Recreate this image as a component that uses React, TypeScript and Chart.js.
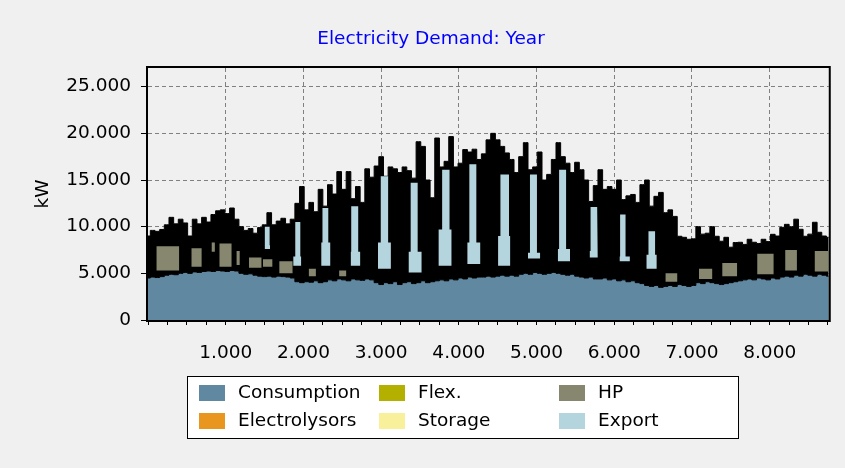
import React, { useEffect, useRef } from 'react';
import { Chart, registerables } from 'chart.js';

Chart.register(...registerables);

// ---------------- data ----------------
// sample hours of the year for the demand envelope and consumption
const hoursH = [
  0, 60, 120, 180, 240, 300, 360, 420, 480, 540,
  600, 660, 720, 780, 840, 900, 960, 1020, 1080, 1140,
  1200, 1260, 1320, 1380, 1440, 1500, 1560, 1620, 1680, 1740,
  1800, 1860, 1920, 1980, 2040, 2100, 2160, 2220, 2280, 2340,
  2400, 2460, 2520, 2580, 2640, 2700, 2760, 2820, 2880, 2940,
  3000, 3060, 3120, 3180, 3240, 3300, 3360, 3420, 3480, 3540,
  3600, 3660, 3720, 3780, 3840, 3900, 3960, 4020, 4080, 4140,
  4200, 4260, 4320, 4380, 4440, 4500, 4560, 4620, 4680, 4740,
  4800, 4860, 4920, 4980, 5040, 5100, 5160, 5220, 5280, 5340,
  5400, 5460, 5520, 5580, 5640, 5700, 5760, 5820, 5880, 5940,
  6000, 6060, 6120, 6180, 6240, 6300, 6360, 6420, 6480, 6540,
  6600, 6660, 6720, 6780, 6840, 6900, 6960, 7020, 7080, 7140,
  7200, 7260, 7320, 7380, 7440, 7500, 7560, 7620, 7680, 7740,
  7800, 7860, 7920, 7980, 8040, 8100, 8160, 8220, 8280, 8340,
  8400, 8460, 8520, 8580, 8640, 8700, 8760,
];

// total stacked demand (top of the black hourly mass), kW
const totalPeakKW = [
  9000, 9600, 9500, 9700, 10200, 11000, 10300, 10800, 10400, 9000,
  10800, 10300, 11000, 10500, 11300, 11700, 11800, 11400, 12000, 10800,
  10000, 9600, 9800, 9300, 9900, 10200, 11500, 10200, 10600, 10900,
  10300, 10800, 12500, 14300, 11800, 12600, 11600, 14000, 12200, 14500,
  13500, 15900, 14000, 15900, 13000, 14300, 12600, 16200, 15300, 16500,
  17500, 15400, 16400, 16200, 15800, 16400, 16000, 15200, 19100, 18600,
  15000, 13100, 19500, 16400, 17000, 19650, 16400, 16800, 18260, 18000,
  18300, 17200, 17800, 19300, 20000, 19300, 18600, 17900, 17200, 15800,
  17500, 19000, 16100, 16400, 18000, 15000, 15600, 17200, 19000, 17500,
  16800, 15800, 16900, 16100, 15000, 12700, 14400, 16100, 14000, 14300,
  14000, 15000, 12900, 13300, 13450, 12600, 14500, 15000, 12200, 13250,
  13670, 11500, 11800, 11100, 8970, 8860, 8650, 8700, 10000, 9200,
  9300, 10000, 8970, 8440, 8860, 7800, 8300, 8330, 8100, 8650,
  8330, 8200, 8650, 8400, 9180, 9000, 9930, 10250, 10000, 10800,
  9720, 8970, 9200, 10470, 9400, 9000, 8860,
];

// consumption, kW
const consumptionKW = [
  4500, 4600, 4550, 4650, 4800, 4900, 4850, 5000, 5100, 5000,
  5150, 5100, 5200, 5250, 5200, 5300, 5250, 5200, 5300, 5250,
  5000, 4900, 4950, 4800, 4700, 4650, 4700, 4600, 4700, 4650,
  4600, 4500, 4100, 4000, 4100, 4050, 4200, 4000, 4100, 4300,
  4200, 4400, 4300, 4200, 4400, 4300, 4250, 4400, 4300, 4000,
  3800, 4000, 3900, 4100, 3800, 4000, 4100, 3900, 4000, 4200,
  4000, 4100, 4200, 4300, 4200, 4400, 4300, 4500, 4400, 4600,
  4500, 4600, 4600, 4700, 4600, 4700, 4800, 4700, 4800, 4700,
  4900, 5000, 4900, 5100, 5000, 4900, 5000, 5100, 5000, 4900,
  4800, 4900, 4700, 4600, 4500, 4600, 4400, 4400, 4500, 4300,
  4400, 4200, 4300, 4100, 4200, 4000, 3900, 3700, 3600, 3700,
  3500, 3600, 3700, 3600, 3800, 3700, 3600, 3700, 4000, 3900,
  4100, 4000, 3900, 3800, 3900, 4000, 4100, 4200, 4300, 4400,
  4300, 4500, 4400, 4300, 4500, 4400, 4600, 4700, 4600, 4800,
  4700, 4900, 4800, 4700, 4900, 4800, 4700,
];

// heat pump episodes visible inside the winter mass
const hpStartH = [110, 560, 820, 920, 1140, 1300, 1480, 1690, 2070, 2460, 6660, 7090, 7390, 7840, 8200, 8580];
const hpEndH = [400, 690, 860, 1075, 1180, 1460, 1600, 1860, 2160, 2550, 6810, 7260, 7580, 8050, 8350, 8760];
const hpLowKW = [5300, 5700, 7300, 5700, 5900, 5600, 5700, 5000, 4700, 4700, 4100, 4400, 4700, 4900, 5300, 5200];
const hpHighKW = [7900, 7700, 8300, 8200, 7400, 6700, 6500, 6300, 5500, 5300, 5000, 5500, 6100, 7100, 7500, 7400];

// export episodes (weekly summer bands)
const exportWideStartH = [1500, 1870, 2230, 2610, 2960, 3355, 3740, 4110, 4505, 4890, 5275, 5685, 6070, 6415];
const exportWideEndH = [1570, 1970, 2345, 2730, 3125, 3520, 3905, 4275, 4660, 5045, 5430, 5790, 6200, 6545];
const exportCoreStartH = [1505, 1895, 2245, 2615, 2995, 3380, 3785, 4135, 4535, 4915, 5290, 5695, 6075, 6440];
const exportCoreEndH = [1565, 1960, 2320, 2705, 3090, 3470, 3880, 4225, 4645, 5005, 5380, 5780, 6145, 6525];
const exportLowKW = [7600, 5800, 5800, 5800, 5500, 5100, 5800, 6000, 5800, 6600, 6300, 6700, 6300, 5500];
const exportMidKW = [8000, 6800, 8300, 7300, 8300, 7300, 9700, 8300, 9000, 7200, 7600, 7400, 6800, 7000];
const exportHighKW = [10000, 10500, 12000, 12200, 15400, 14700, 16100, 16700, 15600, 15600, 16100, 12100, 11300, 9500];

// series with no visible contribution
const electrolysorsKW: number[] = [];
const flexKW: number[] = [];
const storageKW: number[] = [];

const yTickValuesKW = [0, 5000, 10000, 15000, 20000, 25000];
const xLabelHours = [1000, 2000, 3000, 4000, 5000, 6000, 7000, 8000];
const X_MAX_H = 8760;
const Y_MAX_KW = 27000;
const X_MINOR_STEP_H = 250;

const TITLE = 'Electricity Demand: Year';
const legendOrder = ['Consumption', 'Electrolysors', 'Flex.', 'Storage', 'HP', 'Export'];

// ---------------- styles ----------------
const FONT = "'DejaVu Sans', sans-serif";
const FONT_SIZE = 18.5;
const COLORS: Record<string, string> = {
  Consumption: '#6088a0',
  Electrolysors: '#e8961e',
  'Flex.': '#b4b000',
  Storage: '#f8f09a',
  HP: '#878770',
  Export: '#b4d4de',
};
const GRID = '#808080';

const fmtThousands = (v: number) => String(Math.round(v)).replace(/\B(?=(\d{3})+(?!\d))/g, '.');

const toPoints = (ys: number[]) => hoursH.map((h, i) => ({ x: h, y: ys[i] ?? null }));

function hpShapes() {
  const pts: any[] = [];
  hpStartH.forEach((s, i) => {
    const e = hpEndH[i];
    pts.push({ x: s, y: hpLowKW[i] }, { x: s, y: hpHighKW[i] }, { x: e, y: hpHighKW[i] }, { x: e, y: hpLowKW[i] }, { x: e, y: null });
  });
  return pts;
}

function exportShapes() {
  const pts: any[] = [];
  exportWideStartH.forEach((ws, i) => {
    const we = exportWideEndH[i];
    const cs = exportCoreStartH[i];
    const ce = exportCoreEndH[i];
    const lo = exportLowKW[i];
    const mid = exportMidKW[i];
    const hi = exportHighKW[i];
    pts.push(
      { x: ws, y: lo }, { x: ws, y: mid }, { x: cs, y: mid }, { x: cs, y: hi },
      { x: ce, y: hi }, { x: ce, y: mid }, { x: we, y: mid }, { x: we, y: lo }, { x: we, y: null },
    );
  });
  return pts;
}

const framePlugin = {
  id: 'frame',
  afterDatasetsDraw(chart: any) {
    const { ctx, chartArea: a } = chart;
    ctx.save();
    ctx.strokeStyle = '#000';
    ctx.lineWidth = 2;
    ctx.strokeRect(a.left - 1, a.top - 1, a.right - a.left + 2, a.bottom - a.top + 2);
    ctx.restore();
  },
};

const legendPlugin = {
  id: 'gridLegend',
  afterDraw(chart: any) {
    const { ctx } = chart;
    const box = { x: 187.5, y: 376.5, w: 551, h: 62 };
    const colX = [199, 379, 559];
    const rowY = [385, 413];
    ctx.save();
    ctx.fillStyle = '#ffffff';
    ctx.fillRect(box.x, box.y, box.w, box.h);
    ctx.strokeStyle = '#000';
    ctx.lineWidth = 1;
    ctx.strokeRect(box.x, box.y, box.w, box.h);
    ctx.font = `${FONT_SIZE}px ${FONT}`;
    ctx.textBaseline = 'middle';
    ctx.textAlign = 'left';
    legendOrder.forEach((name, i) => {
      const ds = chart.data.datasets.find((d: any) => d.label === name);
      const c = Math.floor(i / 2);
      const r = i % 2;
      ctx.fillStyle = ds ? ds.backgroundColor : COLORS[name];
      ctx.fillRect(colX[c], rowY[r], 26, 16);
      ctx.fillStyle = '#000';
      ctx.fillText(name, colX[c] + 39, rowY[r] + 8.5);
    });
    ctx.restore();
  },
};

export default function App() {
  const ref = useRef<HTMLCanvasElement | null>(null);

  useEffect(() => {
    if (!ref.current) return;
    Chart.defaults.font.family = FONT;
    Chart.defaults.font.size = FONT_SIZE;
    Chart.defaults.color = '#000';

    const xTicks: number[] = [];
    for (let v = 0; v < X_MAX_H; v += X_MINOR_STEP_H) xTicks.push(v);

    const chart = new Chart(ref.current, {
      type: 'line',
      data: {
        datasets: [
          {
            label: 'Export', data: exportShapes(), backgroundColor: COLORS.Export,
            borderWidth: 0, fill: 'shape', pointRadius: 0, order: 2,
          },
          {
            label: 'HP', data: hpShapes(), backgroundColor: COLORS.HP,
            borderWidth: 0, fill: 'shape', pointRadius: 0, order: 3,
          },
          {
            label: 'Consumption', data: toPoints(consumptionKW), backgroundColor: COLORS.Consumption,
            borderColor: '#000', borderWidth: 1, fill: 'origin', pointRadius: 0, order: 4, stepped: 'middle',
          },
          {
            label: 'Total demand', data: toPoints(totalPeakKW), backgroundColor: '#000',
            borderColor: '#000', borderWidth: 1, fill: 'origin', pointRadius: 0, order: 5, stepped: 'middle',
          },
          { label: 'Electrolysors', data: toPoints(electrolysorsKW).filter((p) => p.y !== null), backgroundColor: COLORS.Electrolysors, borderWidth: 0, fill: false, pointRadius: 0, order: 6 },
          { label: 'Flex.', data: toPoints(flexKW).filter((p) => p.y !== null), backgroundColor: COLORS['Flex.'], borderWidth: 0, fill: false, pointRadius: 0, order: 7 },
          { label: 'Storage', data: toPoints(storageKW).filter((p) => p.y !== null), backgroundColor: COLORS.Storage, borderWidth: 0, fill: false, pointRadius: 0, order: 8 },
        ] as any,
      },
      options: {
        animation: false,
        responsive: false,
        devicePixelRatio: 1,
        events: [],
        layout: { padding: { left: 29, right: 12, top: 0, bottom: 98 } },
        elements: { line: { tension: 0 }, point: { radius: 0 } },
        plugins: {
          legend: { display: false },
          tooltip: { enabled: false },
          title: {
            display: true,
            text: TITLE,
            color: '#0000ff',
            font: { family: FONT, size: FONT_SIZE, weight: 'normal', lineHeight: 1.2 },
            padding: { top: 28, bottom: 17.8 },
          },
        },
        scales: {
          x: {
            type: 'linear',
            min: 0,
            max: X_MAX_H,
            bounds: 'data',
            afterBuildTicks: (s: any) => { s.ticks = xTicks.map((v) => ({ value: v })); },
            afterFit: (s: any) => { s.height = 50; },
            ticks: {
              autoSkip: false, maxRotation: 0, minRotation: 0, padding: 17, color: '#000',
              callback: (v: any) => (xLabelHours.includes(Number(v)) ? fmtThousands(Number(v)) : ''),
            },
            grid: {
              color: (c: any) => (c.tick && xLabelHours.includes(c.tick.value) ? GRID : 'rgba(0,0,0,0)'),
              tickColor: '#000',
              tickLength: 5,
              lineWidth: 1,
            },
            border: { display: false, dash: [4, 3] },
          },
          y: {
            type: 'linear',
            min: 0,
            max: Y_MAX_KW,
            bounds: 'data',
            afterBuildTicks: (s: any) => { s.ticks = yTickValuesKW.map((v) => ({ value: v })); },
            afterFit: (s: any) => { s.width = 119; },
            title: { display: true, text: 'kW', color: '#000', font: { family: FONT, size: FONT_SIZE }, padding: { top: 3, bottom: 0 } },
            ticks: { padding: 10, color: '#000', callback: (v: any) => fmtThousands(Number(v)) },
            grid: {
              color: (c: any) => (c.tick && c.tick.value > 0 ? GRID : 'rgba(0,0,0,0)'),
              tickColor: '#000',
              tickLength: 7,
              lineWidth: 1,
            },
            border: { display: false, dash: [4, 3] },
          },
        },
      } as any,
      plugins: [framePlugin, legendPlugin],
    });
    return () => chart.destroy();
  }, []);

  return (
    <div style={{ position: 'fixed', left: 0, top: 0, width: 845, height: 468, background: '#f0f0f0' }}>
      <canvas ref={ref} width={845} height={468} style={{ display: 'block', width: 845, height: 468 }} />
    </div>
  );
}
